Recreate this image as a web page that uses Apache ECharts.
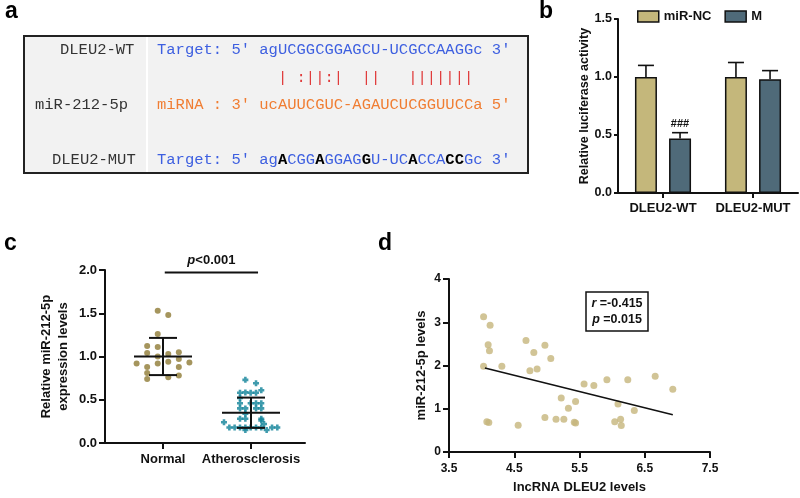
<!DOCTYPE html>
<html><head><meta charset="utf-8">
<script src="https://cdn.jsdelivr.net/npm/echarts@6/dist/echarts.min.js"></script>
<style>html,body{margin:0;padding:0;background:#fff}#c{width:800px;height:498px}</style>
</head><body><div id="c"></div>
<script>
// ---------- Panel a: sequence alignment ----------
const seqLabels = ['DLEU2-WT', 'miR-212-5p', 'DLEU2-MUT'];
const wtLine = "Target: 5' agUCGGCGGAGCU-UCGCCAAGGc 3'";
const pairLine = "             | :||:|  ||   |||||||";
const mirLine = "miRNA : 3' ucAUUCGUC-AGAUCUCGGUUCCa 5'";
const mutHead = "Target: 5' ";
const mutSeq = "agACGGAGGAGGU-UCACCACCGc";
const mutTail = " 3'";
const mutBold = [2, 6, 11, 16, 20, 21];

// ---------- Panel b: luciferase ----------
const bCategories = ['DLEU2-WT', 'DLEU2-MUT'];
const bSeriesNames = ['miR-NC', 'M'];
const ncValues = [1.00, 1.00];
const ncErrors = [0.10, 0.125];
const mValues = [0.47, 0.98];
const mErrors = [0.05, 0.075];
const mMarks = ['###', ''];
const bTicks = [0, 1.5, 0.5];

// ---------- Panel c: expression scatter ----------
const cCategories = ['Normal', 'Atherosclerosis'];
const normalValues = [1.53, 1.48, 1.26, 1.12, 1.11, 1.04, 1.00, 1.03, 1.05, 0.92, 0.88, 0.92, 0.94, 0.97, 0.93, 0.81, 0.88, 0.74, 0.76, 0.78];
const normalJitter = [-0.06, 0.06, -0.06, -0.18, -0.06, -0.18, -0.06, 0.06, 0.18, -0.30, -0.18, -0.06, 0.06, 0.18, 0.30, -0.18, 0.18, -0.18, 0.06, 0.18];
const atheroValues = [0.73, 0.69, 0.61, 0.58, 0.585, 0.58, 0.58, 0.52, 0.46, 0.46, 0.46, 0.46, 0.40, 0.40, 0.40, 0.40, 0.34, 0.28, 0.28, 0.28, 0.24, 0.26, 0.22, 0.18, 0.18, 0.18, 0.18, 0.18, 0.18, 0.18, 0.18, 0.18, 0.15, 0.15];
const atheroJitter = [-0.064, 0.057, 0.117, -0.125, -0.064, -0.004, 0.057, -0.125, -0.125, -0.004, 0.057, 0.117, -0.125, -0.064, 0.057, 0.117, -0.064, -0.125, -0.064, 0.117, -0.307, 0.117, 0.148, -0.246, -0.186, -0.125, -0.004, 0.057, 0.117, 0.239, 0.299, -0.064, -0.064, 0.178];
const cMeans = [1.00, 0.35];
const cSDs = [0.215, 0.175];
const cTicks = [0, 2, 0.5];
const pBracket = [1.02, 2.08, 1.97];
const pText = 'p<0.001';

// ---------- Panel d: correlation ----------
const dX = [4.03, 4.13, 4.10, 4.12, 4.03, 4.31, 4.68, 4.80, 4.97, 5.06, 4.74, 4.85, 5.57, 5.72, 5.92, 6.24, 6.66, 6.93, 5.22, 5.44, 5.33, 6.09, 6.34, 4.08, 4.11, 4.56, 4.97, 5.14, 5.26, 5.42, 5.44, 6.04, 6.13, 6.14];
const dY = [3.13, 2.93, 2.48, 2.34, 1.98, 1.98, 2.58, 2.30, 2.47, 2.16, 1.88, 1.92, 1.57, 1.54, 1.67, 1.67, 1.75, 1.45, 1.25, 1.17, 1.01, 1.11, 0.96, 0.70, 0.68, 0.62, 0.80, 0.76, 0.76, 0.69, 0.67, 0.70, 0.76, 0.61];
const trendX = [4.05, 6.93];
const trendY = [1.94, 0.86];
const dXTicks = [3.5, 4.5, 5.5, 6.5, 7.5];
const dYTicks = [0, 4, 1];
const statLines = ['r', ' =-0.415', 'p', ' =0.015'];

// ---------- styles ----------
const SANS = '"Liberation Sans", Arial, sans-serif';
const MONO = '"Liberation Mono", "Courier New", monospace';
const INK = '#111';
const BLUE = '#3d5fe0';
const ORANGE = '#f07d32';
const RED = '#e03c3c';
const BAR_W = 22, BAR_GAP = 0.55, CAP = 8;

function axisCommon(extra) {
  return Object.assign({
    axisLine: { show: true, lineStyle: { color: INK, width: 2 } },
    axisTick: { show: true, length: 5, lineStyle: { color: INK, width: 2 } },
    splitLine: { show: false },
    axisLabel: { color: INK, fontWeight: 'bold', fontFamily: SANS, fontSize: 12 },
    nameTextStyle: { color: INK, fontWeight: 'bold', fontFamily: SANS, fontSize: 13 }
  }, extra);
}
const fix1 = v => v.toFixed(1);

// rich text for mutant line
let mutRich = mutHead;
for (let i = 0; i < mutSeq.length; i++) {
  mutRich += mutBold.includes(i) ? '{k|' + mutSeq[i] + '}' : mutSeq[i];
}
mutRich += mutTail;

const monoFont = '15.5px ' + MONO;
const graphics = [
  { type: 'text', style: { text: 'a', x: 5, y: 12, verticalAlign: 'middle', font: 'bold 23px ' + SANS, fill: '#000' } },
  { type: 'text', style: { text: 'b', x: 539, y: 12, verticalAlign: 'middle', font: 'bold 23px ' + SANS, fill: '#000' } },
  { type: 'text', style: { text: 'c', x: 4, y: 244, verticalAlign: 'middle', font: 'bold 23px ' + SANS, fill: '#000' } },
  { type: 'text', style: { text: 'd', x: 378, y: 244, verticalAlign: 'middle', font: 'bold 23px ' + SANS, fill: '#000' } },
  { type: 'rect', shape: { x: 24, y: 36, width: 504, height: 137 }, style: { fill: '#f2f2f2', stroke: '#222', lineWidth: 2 } },
  { type: 'line', shape: { x1: 147, y1: 37, x2: 147, y2: 172 }, style: { stroke: '#ffffff', lineWidth: 2 } },
  { type: 'text', style: { text: seqLabels[0], x: 60, y: 50, verticalAlign: 'middle', font: monoFont, fill: '#333' } },
  { type: 'text', style: { text: seqLabels[1], x: 35, y: 105, verticalAlign: 'middle', font: monoFont, fill: '#333' } },
  { type: 'text', style: { text: seqLabels[2], x: 52, y: 160, verticalAlign: 'middle', font: monoFont, fill: '#333' } },
  { type: 'text', style: { text: wtLine, x: 157, y: 50, verticalAlign: 'middle', font: monoFont, fill: BLUE } },
  { type: 'text', style: { text: pairLine, x: 157, y: 78, verticalAlign: 'middle', font: monoFont, fill: RED } },
  { type: 'text', style: { text: mirLine, x: 157, y: 105, verticalAlign: 'middle', font: monoFont, fill: ORANGE } },
  { type: 'text', style: { text: mutRich, x: 157, y: 160, verticalAlign: 'middle', font: monoFont, fill: BLUE,
      rich: { k: { fill: '#000', fontWeight: 'bold', fontFamily: MONO, fontSize: 15.5 } } } },
  // stats box panel d
  { type: 'rect', shape: { x: 586, y: 292, width: 62, height: 39 }, style: { fill: '#fff', stroke: INK, lineWidth: 1.5 } },
  { type: 'text', style: { text: '{i|' + statLines[0] + '}' + statLines[1], x: 617, y: 303.5, align: 'center', verticalAlign: 'middle',
      font: 'bold 12.5px ' + SANS, fill: INK, rich: { i: { fontStyle: 'italic', fontWeight: 'bold', fontSize: 12.5, fontFamily: SANS, fill: INK } } } },
  { type: 'text', style: { text: '{i|' + statLines[2] + '}' + statLines[3], x: 617, y: 320, align: 'center', verticalAlign: 'middle',
      font: 'bold 12.5px ' + SANS, fill: INK, rich: { i: { fontStyle: 'italic', fontWeight: 'bold', fontSize: 12.5, fontFamily: SANS, fill: INK } } } }
];

function errRender(sign, marks) {
  const shift = sign * BAR_W * (1 + BAR_GAP) / 2;
  return function (params, api) {
    const i = api.value(0), v = api.value(1), e = api.value(2);
    const p0 = api.coord([i, v]);
    const p1 = api.coord([i, v + e]);
    const x = p0[0] + shift;
    const st = { stroke: INK, lineWidth: 1.6 };
    const ch = [
      { type: 'line', shape: { x1: x, y1: p0[1], x2: x, y2: p1[1] }, style: st },
      { type: 'line', shape: { x1: x - CAP, y1: p1[1], x2: x + CAP, y2: p1[1] }, style: st }
    ];
    const m = marks && marks[params.dataIndex];
    if (m) ch.push({ type: 'text', style: { text: m, x: x, y: p1[1] - 9, align: 'center', verticalAlign: 'middle', font: 'bold 11px ' + SANS, fill: INK } });
    return { type: 'group', children: ch };
  };
}

function statRender(params, api) {
  const x = api.value(0), mean = api.value(1), sd = api.value(2);
  const pm = api.coord([x, mean]);
  const pu = api.coord([x, mean + sd]);
  const pl = api.coord([x, mean - sd]);
  const st = { stroke: INK, lineWidth: 2 };
  return { type: 'group', children: [
    { type: 'line', shape: { x1: pm[0] - 29, y1: pm[1], x2: pm[0] + 29, y2: pm[1] }, style: st },
    { type: 'line', shape: { x1: pu[0], y1: pu[1], x2: pl[0], y2: pl[1] }, style: st },
    { type: 'line', shape: { x1: pu[0] - 14, y1: pu[1], x2: pu[0] + 14, y2: pu[1] }, style: st },
    { type: 'line', shape: { x1: pl[0] - 14, y1: pl[1], x2: pl[0] + 14, y2: pl[1] }, style: st }
  ] };
}

function bracketRender(params, api) {
  const a = api.coord([api.value(0), api.value(2)]);
  const b = api.coord([api.value(1), api.value(2)]);
  return { type: 'group', children: [
    { type: 'line', shape: { x1: a[0], y1: a[1], x2: b[0], y2: b[1] }, style: { stroke: INK, lineWidth: 2 } },
    { type: 'text', style: { text: '{i|p}' + pText.slice(1), x: (a[0] + b[0]) / 2, y: a[1] - 12, align: 'center', verticalAlign: 'middle',
        font: 'bold 13px ' + SANS, fill: INK, rich: { i: { fontStyle: 'italic', fontWeight: 'bold', fontSize: 13, fontFamily: SANS, fill: INK } } } }
  ] };
}

const crossPath = 'path://M2,0H5V2H7V5H5V7H2V5H0V2H2Z';

const option = {
  animation: false,
  backgroundColor: '#fff',
  textStyle: { fontFamily: SANS },
  graphic: graphics,
  legend: {
    data: bSeriesNames, left: 632, top: 5, itemWidth: 21, itemHeight: 11, itemGap: 13, icon: 'rect',
    itemStyle: { borderColor: INK, borderWidth: 1.5 },
    textStyle: { color: INK, fontWeight: 'bold', fontSize: 13, fontFamily: SANS }
  },
  grid: [
    { left: 618, top: 19, width: 180, height: 174 },
    { left: 105, top: 270, width: 200, height: 173 },
    { left: 449, top: 279, width: 261, height: 173 }
  ],
  xAxis: [
    axisCommon({ type: 'category', gridIndex: 0, data: bCategories,
      axisTick: { show: true, alignWithLabel: true, length: 5, lineStyle: { color: INK, width: 2 } },
      axisLabel: { color: INK, fontWeight: 'bold', fontFamily: SANS, fontSize: 13, margin: 9, interval: 0, hideOverlap: false } }),
    axisCommon({ type: 'value', gridIndex: 1, min: 1 - 58 / 88, max: 1 - 58 / 88 + 200 / 88,
      axisTick: { show: true, length: 6, customValues: [1, 2], lineStyle: { color: INK, width: 2 } },
      axisLabel: { color: INK, fontWeight: 'bold', fontFamily: SANS, fontSize: 13, margin: 10, customValues: [1, 2],
        formatter: v => cCategories[Math.round(v) - 1] } }),
    axisCommon({ type: 'value', gridIndex: 2, min: dXTicks[0], max: dXTicks[dXTicks.length - 1],
      name: 'lncRNA DLEU2 levels', nameLocation: 'middle', nameGap: 29,
      axisTick: { show: true, length: 6, customValues: dXTicks, lineStyle: { color: INK, width: 2 } },
      axisLabel: { color: INK, fontWeight: 'bold', fontFamily: SANS, fontSize: 12, margin: 11, customValues: dXTicks, formatter: fix1 } })
  ],
  yAxis: [
    axisCommon({ type: 'value', gridIndex: 0, min: bTicks[0], max: bTicks[1], interval: bTicks[2],
      name: 'Relative luciferase activity', nameLocation: 'middle', nameGap: 24,
      nameTextStyle: { color: INK, fontWeight: 'bold', fontFamily: SANS, fontSize: 12.5 },
      axisTick: { show: true, length: 4, lineStyle: { color: INK, width: 2 } },
      axisLabel: { color: INK, fontWeight: 'bold', fontFamily: SANS, fontSize: 12.5, margin: 6, formatter: fix1 } }),
    axisCommon({ type: 'value', gridIndex: 1, min: cTicks[0], max: cTicks[1], interval: cTicks[2],
      name: 'Relative miR-212-5p\nexpression levels', nameLocation: 'middle', nameGap: 33,
      nameTextStyle: { color: INK, fontWeight: 'bold', fontFamily: SANS, fontSize: 13, lineHeight: 17 },
      axisTick: { show: true, length: 6, lineStyle: { color: INK, width: 2 } },
      axisLabel: { color: INK, fontWeight: 'bold', fontFamily: SANS, fontSize: 13, margin: 8, formatter: fix1 } }),
    axisCommon({ type: 'value', gridIndex: 2, min: dYTicks[0], max: dYTicks[1], interval: dYTicks[2],
      name: 'miR-212-5p levels', nameLocation: 'middle', nameGap: 21,
      axisTick: { show: true, length: 6, lineStyle: { color: INK, width: 2 } },
      axisLabel: { color: INK, fontWeight: 'bold', fontFamily: SANS, fontSize: 12, margin: 8 } })
  ],
  series: [
    { type: 'bar', name: bSeriesNames[0], xAxisIndex: 0, yAxisIndex: 0, data: ncValues, barWidth: BAR_W, barGap: (BAR_GAP * 100) + '%',
      itemStyle: { color: '#c4b77b', borderColor: INK, borderWidth: 1.5 } },
    { type: 'bar', name: bSeriesNames[1], xAxisIndex: 0, yAxisIndex: 0, data: mValues, barWidth: BAR_W,
      itemStyle: { color: '#4f6a79', borderColor: INK, borderWidth: 1.5 } },
    { type: 'custom', xAxisIndex: 0, yAxisIndex: 0, z: 5, renderItem: errRender(-1, null),
      data: ncValues.map((v, i) => [i, v, ncErrors[i]]) },
    { type: 'custom', xAxisIndex: 0, yAxisIndex: 0, z: 5, renderItem: errRender(1, mMarks),
      data: mValues.map((v, i) => [i, v, mErrors[i]]) },

    { type: 'scatter', xAxisIndex: 1, yAxisIndex: 1, symbol: 'circle', symbolSize: 6,
      itemStyle: { color: '#8e7b34' }, data: normalValues.map((v, i) => [1 + normalJitter[i], v]) },
    { type: 'scatter', xAxisIndex: 1, yAxisIndex: 1, symbol: crossPath, symbolSize: 6,
      itemStyle: { color: '#0f8299' }, data: atheroValues.map((v, i) => [2 + atheroJitter[i], v]) },
    { type: 'custom', xAxisIndex: 1, yAxisIndex: 1, z: 5, renderItem: statRender,
      data: cMeans.map((m, i) => [i + 1, m, cSDs[i]]) },
    { type: 'custom', xAxisIndex: 1, yAxisIndex: 1, z: 5, renderItem: bracketRender, data: [pBracket] },

    { type: 'scatter', xAxisIndex: 2, yAxisIndex: 2, symbol: 'circle', symbolSize: 7,
      itemStyle: { color: '#c6b57c' }, data: dX.map((x, i) => [x, dY[i]]) },
    { type: 'line', xAxisIndex: 2, yAxisIndex: 2, symbol: 'none', z: 4,
      lineStyle: { color: INK, width: 1.6 }, data: trendX.map((x, i) => [x, trendY[i]]) }
  ]
};

const chart = echarts.init(document.getElementById('c'), null, { renderer: 'canvas' });
chart.setOption(option);
</script>
</body></html>
